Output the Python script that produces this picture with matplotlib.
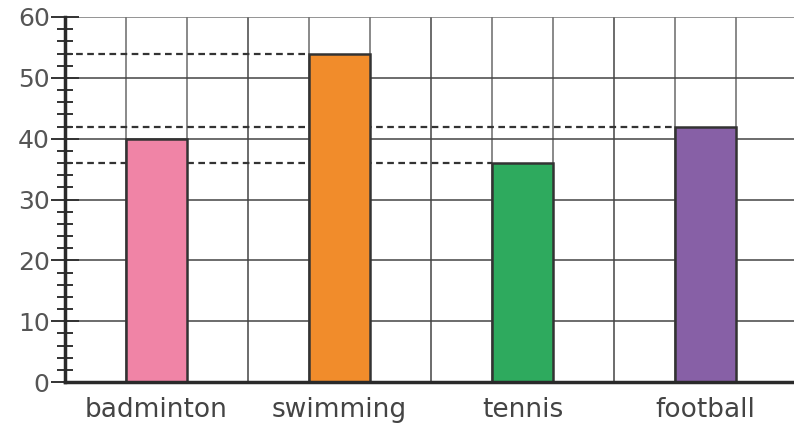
import numpy as np
import matplotlib.pyplot as plt
from matplotlib.ticker import MultipleLocator

sports = ['badminton', 'swimming', 'tennis', 'football']
values = [40, 54, 36, 42]
colors = ['#f084a6', '#f18c2b', '#2eaa5e', '#8760a6']
dashed_for = ['swimming', 'tennis', 'football']

plt.rcParams['font.family'] = ['DejaVu Sans']

fig = plt.figure(figsize=(7.94, 4.25), dpi=100)
ax = fig.add_axes([65 / 794, 1 - 382 / 425, 1 - 65 / 794, 365 / 425])

pos = np.arange(len(sports)) * 3 + 1.5
ax.bar(pos, values, width=1, color=colors, edgecolor='#333333', linewidth=1.8, zorder=3)

# dashed guide lines from the axis to each bar
for s in dashed_for:
    i = sports.index(s)
    ax.hlines(values[i], 0, pos[i] - 0.5, colors='#333333', linestyles=(0, (3, 2)),
              linewidth=1.6, zorder=2)

ax.set_xlim(0, 11.95)
ax.set_ylim(0, 60)

# grid
for x in range(1, 12):
    ax.axvline(x, color='#6a6a6a' if x % 3 else '#444444', linewidth=1.1, zorder=1)
for y in range(10, 61, 10):
    ax.axhline(y, color='#444444' if y < 60 else '#777777', linewidth=1.1, zorder=1)

ax.set_xticks(pos)
ax.set_xticklabels(sports, fontsize=19, color='#444444')
ax.tick_params(axis='x', length=0, pad=11)

ax.yaxis.set_major_locator(MultipleLocator(10))
ax.yaxis.set_minor_locator(MultipleLocator(2))
ax.tick_params(axis='y', which='major', direction='inout', length=20, width=1.4,
               labelsize=18, labelcolor='#555555', color='#333333', pad=1)
ax.tick_params(axis='y', which='minor', direction='inout', length=12, width=1.4,
               color='#333333')

for side in ['top', 'right']:
    ax.spines[side].set_visible(False)
ax.spines['left'].set_linewidth(2.5)
ax.spines['left'].set_color('#2a2a2a')
ax.spines['bottom'].set_linewidth(2.5)
ax.spines['bottom'].set_color('#2a2a2a')
ax.spines['left'].set_zorder(4)
ax.spines['bottom'].set_zorder(4)

fig.savefig('out.png', dpi=100)
